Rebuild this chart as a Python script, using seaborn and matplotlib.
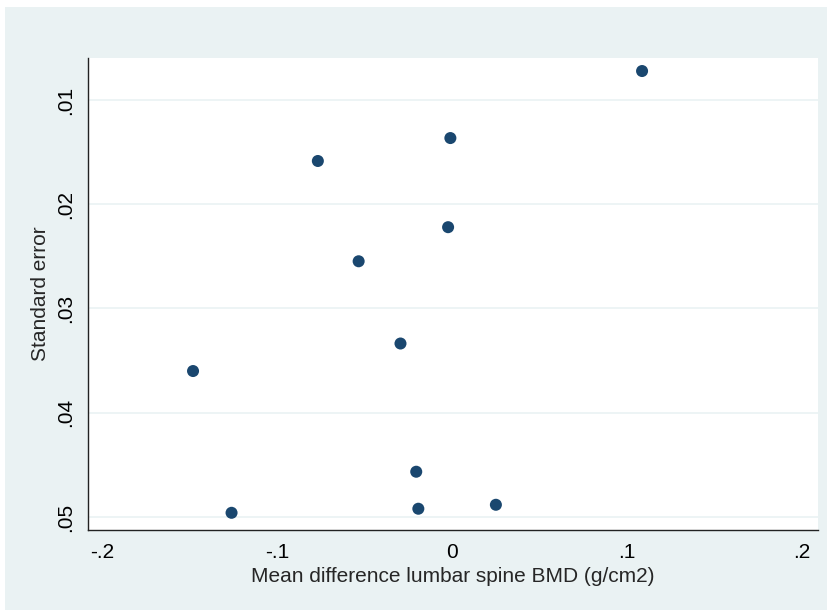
# Funnel-style scatter: mean difference vs standard error (inverted y)

import matplotlib
matplotlib.use("Agg")
import matplotlib.pyplot as plt
import matplotlib.patches as mpatches
import pandas as pd
import seaborn as sns

# data
mean_diff = [0.1085, -0.0010, -0.0767, -0.0023, -0.0534, -0.0295,
             -0.1480, -0.0205, 0.0250, -0.0193, -0.1260]
std_err = [0.00722, 0.01365, 0.01585, 0.02220, 0.02547, 0.03336,
           0.03600, 0.04566, 0.04883, 0.04921, 0.04960]
x_ticks = [-0.2, -0.1, 0.0, 0.1, 0.2]
x_labels = ["-.2", "-.1", "0", ".1", ".2"]
y_ticks = [0.01, 0.02, 0.03, 0.04, 0.05]
y_labels = [".01", ".02", ".03", ".04", ".05"]

df = pd.DataFrame({"diff": mean_diff, "se": std_err})

bg = "#eaf2f3"
navy = "#1a476f"

sns.set_style("white")
plt.rcParams["font.family"] = ["Liberation Sans", "DejaVu Sans"]

fig = plt.figure(figsize=(8.27, 6.10), dpi=100)
fig.patch.set_facecolor("white")
fig.patches.append(mpatches.Rectangle((5 / 827, -0.01), 1, 1.01 - 7 / 610,
                                      transform=fig.transFigure,
                                      facecolor=bg, edgecolor="none", zorder=-10))

ax = fig.add_axes([88 / 827, 1 - 530 / 610, 730 / 827, 472 / 610])
ax.set_facecolor("white")

sns.scatterplot(data=df, x="diff", y="se", ax=ax, color=navy, s=75,
                edgecolor="none", zorder=3)

ax.set_xlim(-0.208, 0.209)
ax.set_ylim(0.05125, 0.00597)

ax.set_xticks(x_ticks)
ax.set_xticklabels(x_labels)
ax.set_yticks(y_ticks)
ax.set_yticklabels(y_labels, rotation=90, va="center")

ax.grid(axis="y", color=bg, linewidth=1.2, zorder=0)
ax.grid(axis="x", visible=False)

for side in ["top", "right"]:
    ax.spines[side].set_visible(False)
for side in ["left", "bottom"]:
    ax.spines[side].set_color("#222222")
    ax.spines[side].set_linewidth(1.0)

ax.tick_params(axis="both", direction="out", length=5, width=1,
               color="#222222", labelsize=15, labelcolor="black", pad=4)

ax.set_xlabel("Mean difference lumbar spine BMD (g/cm2)", fontsize=15, labelpad=4)
ax.set_ylabel("Standard error", fontsize=15, labelpad=5)

fig.savefig("out.png", dpi=100, facecolor=fig.get_facecolor())
